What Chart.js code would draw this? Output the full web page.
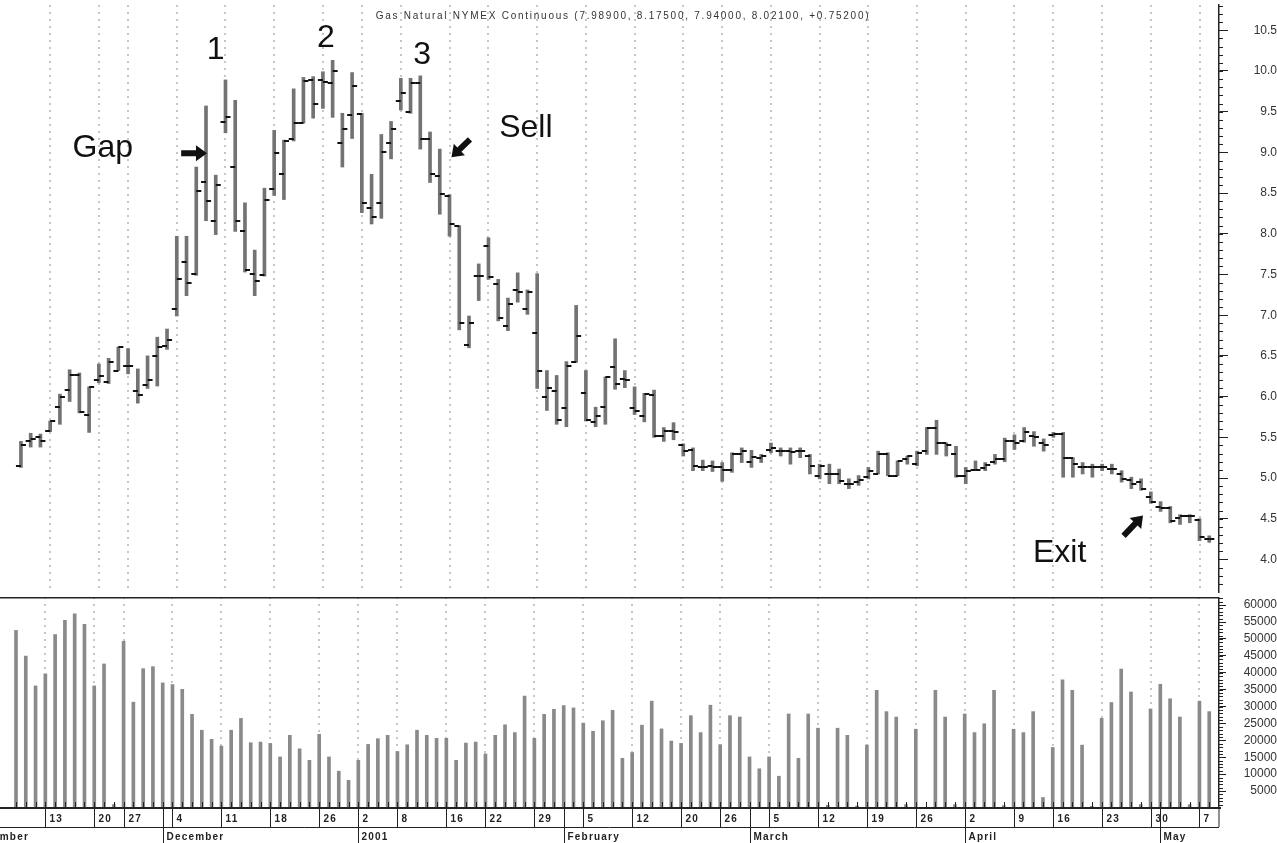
<!DOCTYPE html>
<html>
<head>
<meta charset="utf-8">
<script src="https://cdn.jsdelivr.net/npm/chart.js@4.4.0/dist/chart.umd.min.js"></script>
<style>
  html, body { margin: 0; padding: 0; background: #fff; }
  #wrap { position: relative; width: 1277px; height: 843px; overflow: hidden; background: #fff; }
  #priceChart { position: absolute; left: 0; top: 0; }
  #volumeChart { position: absolute; left: 0; top: 597px; }
</style>
</head>
<body>
<div id="wrap">
  <canvas id="priceChart" width="1277" height="597"></canvas>
  <canvas id="volumeChart" width="1277" height="246"></canvas>
</div>
<script>
const titleText = 'Gas Natural NYMEX Continuous (7.98900, 8.17500, 7.94000, 8.02100, +0.75200)';

// one entry per trading day, Nov 8 2000 .. May 8 2001
const priceOpen = [
  5.15, 5.45, 5.50, 5.58, 5.87, 6.08, 6.27, 5.77, 6.21, 6.18,
  6.32, 6.38, 6.07, 6.14, 6.50, 6.62, 7.07, 7.65, 7.51, 8.64,
  8.16, 9.37, 8.82, 8.03, 7.51, 7.49, 8.55, 8.74, 9.16, 9.36,
  9.89, 9.89, 9.85, 9.12, 9.46, 9.47, 8.32, 8.38, 9.12, 9.63,
  9.49, 9.85, 9.16, 8.71, 8.47, 8.10, 6.63, 7.48, 7.85, 7.38,
  6.87, 7.31, 7.08, 6.78, 5.99, 6.07, 5.86, 6.42, 6.05, 5.69,
  5.87, 6.36, 6.22, 5.86, 5.76, 6.02, 5.52, 5.58, 5.40, 5.35,
  5.14, 5.15, 5.14, 5.10, 5.30, 5.20, 5.24, 5.35, 5.33, 5.33,
  5.33, 5.27, 5.03, 5.05, 5.05, 4.93, 4.95, 5.01, 5.05, 5.29,
  5.03, 5.23, 5.17, 5.33, 5.62, 5.43, 5.29, 5.03, 5.10, 5.12,
  5.20, 5.23, 5.46, 5.46, 5.52, 5.43, 5.53, 5.54, 5.25, 5.13,
  5.13, 5.13, 5.11, 5.05, 4.97, 4.95, 4.77, 4.65, 4.63, 4.51,
  4.53, 4.49, 4.25
];
const priceHigh = [
  5.45, 5.55, 5.54, 5.70, 6.03, 6.33, 6.29, 6.12, 6.40, 6.47,
  6.61, 6.59, 6.34, 6.50, 6.73, 6.83, 7.97, 7.97, 8.82, 9.57,
  8.72, 9.89, 9.64, 8.38, 7.80, 8.56, 9.27, 9.15, 9.78, 9.92,
  9.93, 9.99, 10.13, 9.48, 9.98, 9.48, 8.73, 9.22, 9.38, 9.91,
  9.91, 9.94, 9.25, 9.04, 8.48, 8.10, 6.99, 7.63, 7.95, 7.44,
  7.21, 7.52, 7.31, 7.51, 6.32, 6.26, 6.43, 7.12, 6.32, 5.87,
  6.24, 6.71, 6.32, 6.12, 6.04, 6.08, 5.62, 5.68, 5.42, 5.37,
  5.22, 5.21, 5.19, 5.31, 5.37, 5.34, 5.29, 5.43, 5.37, 5.37,
  5.37, 5.29, 5.17, 5.17, 5.11, 4.99, 5.03, 5.13, 5.33, 5.31,
  5.21, 5.27, 5.33, 5.62, 5.71, 5.43, 5.39, 5.13, 5.21, 5.19,
  5.29, 5.49, 5.53, 5.62, 5.57, 5.48, 5.56, 5.56, 5.25, 5.19,
  5.17, 5.17, 5.17, 5.09, 5.01, 4.99, 4.83, 4.71, 4.65, 4.55,
  4.55, 4.50, 4.29
];
const priceLow = [
  5.13, 5.38, 5.38, 5.57, 5.66, 5.94, 5.80, 5.56, 6.17, 6.16,
  6.32, 6.28, 5.92, 6.10, 6.13, 6.58, 6.99, 7.24, 7.49, 8.16,
  7.99, 9.24, 8.03, 7.53, 7.24, 7.48, 8.47, 8.42, 9.14, 9.36,
  9.42, 9.54, 9.43, 8.82, 9.17, 8.26, 8.12, 8.19, 8.92, 9.52,
  9.48, 9.04, 8.63, 8.24, 7.97, 6.82, 6.60, 7.18, 7.44, 6.93,
  6.81, 7.16, 7.01, 6.10, 5.83, 5.66, 5.63, 6.42, 5.70, 5.63,
  5.66, 6.09, 6.11, 5.78, 5.69, 5.50, 5.45, 5.47, 5.27, 5.09,
  5.09, 5.08, 4.96, 5.07, 5.19, 5.13, 5.19, 5.31, 5.27, 5.17,
  5.25, 5.05, 4.99, 4.93, 4.93, 4.87, 4.91, 4.99, 5.05, 5.03,
  5.03, 5.17, 5.15, 5.29, 5.29, 5.27, 5.01, 4.93, 5.09, 5.09,
  5.17, 5.20, 5.35, 5.44, 5.39, 5.33, 5.50, 5.01, 5.01, 5.05,
  5.01, 5.09, 5.05, 4.95, 4.87, 4.85, 4.69, 4.59, 4.45, 4.43,
  4.45, 4.23, 4.21
];
const priceClose = [
  5.40, 5.48, 5.46, 5.70, 6.00, 6.27, 5.81, 6.12, 6.25, 6.42,
  6.61, 6.38, 6.02, 6.20, 6.61, 6.69, 7.45, 7.40, 8.52, 8.40,
  8.60, 9.43, 8.16, 7.55, 7.42, 8.42, 8.99, 9.14, 9.36, 9.88,
  9.60, 9.86, 10.00, 9.29, 9.81, 8.38, 8.21, 9.00, 9.29, 9.73,
  9.85, 9.17, 8.74, 8.49, 8.12, 6.90, 6.91, 7.48, 7.47, 6.97,
  7.14, 7.28, 7.28, 6.31, 6.11, 5.71, 6.38, 6.75, 5.71, 5.76,
  6.24, 6.15, 6.20, 5.82, 6.03, 5.52, 5.58, 5.56, 5.33, 5.15,
  5.14, 5.14, 5.10, 5.29, 5.33, 5.26, 5.27, 5.37, 5.33, 5.32,
  5.33, 5.15, 5.15, 5.05, 4.96, 4.93, 4.97, 5.09, 5.29, 5.03,
  5.21, 5.27, 5.31, 5.62, 5.43, 5.40, 5.03, 5.09, 5.10, 5.16,
  5.23, 5.46, 5.43, 5.56, 5.50, 5.40, 5.54, 5.25, 5.17, 5.13,
  5.13, 5.13, 5.11, 4.99, 4.93, 4.87, 4.71, 4.63, 4.47, 4.53,
  4.53, 4.27, 4.25
];
const volume = [
  52500, 44900, 36100, 39700, 51300, 55500, 57400, 54300, 36100, 42600,
  1000, 49300, 31300, 41200, 41800, 37000, 36500, 35100, 27700, 23000,
  20300, 18300, 23000, 26500, 19300, 19500, 19100, 15100, 21500, 17500,
  14100, 21800, 15100, 10900, 8200, 14100, 18800, 20500, 21500, 16700,
  18700, 23000, 21500, 20600, 20600, 14100, 19200, 19500, 16000, 21500,
  24600, 22300, 33100, 20600, 27700, 29200, 30300, 29600, 25100, 22700,
  25800, 28900, 14700, 16400, 24500, 31600, 23400, 19800, 19100, 27300,
  22300, 30400, 18700, 27300, 26900, 15100, 11600, 15100, 9400, 27800,
  14700, 27800, 23600, 800, 23600, 21500, 600, 18600, 34800, 28500,
  26900, 1000, 23300, 0, 34800, 26900, 1000, 27800, 22300, 24900,
  34800, 700, 23300, 22300, 28500, 3100, 17900, 37900, 34800, 18600,
  500, 26500, 31200, 41100, 34300, 1000, 29300, 36600, 32300, 26900,
  1000, 31600, 28500
];

// first trading day of each week (index into the arrays above) and its label
const weekIdx = [3, 8, 11, 16, 21, 26, 31, 35, 39, 44, 48, 53, 58, 63, 68, 72, 77, 82, 87, 92, 97, 102, 106, 111, 116, 121];
const weekLabels = ['13', '20', '27', '4', '11', '18', '26', '2', '8', '16', '22', '29', '5', '12', '20', '26', '5', '12', '19', '26', '2', '9', '16', '23', '30', '7'];
const monthIdx = [-5, 15, 35, 56, 75, 97, 117];
const monthLabels = ['November', 'December', '2001', 'February', 'March', 'April', 'May'];

const priceTicks = [4.0, 4.5, 5.0, 5.5, 6.0, 6.5, 7.0, 7.5, 8.0, 8.5, 9.0, 9.5, 10.0, 10.5];
const priceTickLabels = ['4.0', '4.5', '5.0', '5.5', '6.0', '6.5', '7.0', '7.5', '8.0', '8.5', '9.0', '9.5', '10.0', '10.5'];
const volumeTicks = [5000, 10000, 15000, 20000, 25000, 30000, 35000, 40000, 45000, 50000, 55000, 60000];
const volumeTickLabels = ['5000', '10000', '15000', '20000', '25000', '30000', '35000', '40000', '45000', '50000', '55000', '60000'];

// annotations, in (day index, price) coordinates
const notes = [
  { text: '1', x: 20.0, y: 10.15, align: 'center' },
  { text: '2', x: 31.3, y: 10.30, align: 'center' },
  { text: '3', x: 41.2, y: 10.09, align: 'center' },
  { text: 'Gap', x: 5.3, y: 8.94, align: 'left' },
  { text: 'Sell', x: 49.1, y: 9.19, align: 'left' },
  { text: 'Exit', x: 103.9, y: 3.97, align: 'left' }
];
const arrows = [
  { from: [16.45, 8.99], to: [19.1, 8.99] },
  { from: [46.1, 9.16], to: [44.2, 8.94] },
  { from: [113.2, 4.29], to: [115.2, 4.54] }
];

const xMin = -1.636;
const xMax = 123.0;
const FONT = "'Liberation Sans', Arial, sans-serif";
Chart.defaults.font.family = FONT;

function tickMark(side) {
  const c = document.createElement('canvas');
  c.width = 12;
  c.height = 2;
  const g = c.getContext('2d');
  g.fillStyle = '#111';
  if (side === 'open') g.fillRect(1, 0, 5, 2);
  else g.fillRect(6, 0, 5, 2);
  return c;
}
const openMark = tickMark('open');
const closeMark = tickMark('close');

function line(ctx, x1, y1, x2, y2) {
  ctx.beginPath();
  ctx.moveTo(x1, y1);
  ctx.lineTo(x2, y2);
  ctx.stroke();
}

// dotted weekly grid lines
const weekGrid = {
  id: 'weekGrid',
  beforeDatasetsDraw(chart) {
    const { ctx, chartArea } = chart;
    const xs = chart.scales.x;
    ctx.save();
    ctx.strokeStyle = '#b4b4b4';
    ctx.lineWidth = 1.5;
    ctx.setLineDash([2, 5]);
    weekIdx.forEach(i => {
      const x = Math.round(xs.getPixelForValue(i));
      line(ctx, x, chartArea.top, x, chartArea.bottom);
    });
    ctx.restore();
  }
};

// small ticks between the labelled ones on the right axis
const minorTicks = {
  id: 'minorTicks',
  afterDraw(chart, args, opts) {
    const { ctx } = chart;
    const ys = chart.scales.y;
    ctx.save();
    ctx.strokeStyle = '#222';
    ctx.lineWidth = 1;
    for (let k = opts.from; k <= opts.to; k++) {
      const y = Math.round(ys.getPixelForValue(k * opts.step)) + 0.5;
      line(ctx, ys.left, y, ys.left + opts.length, y);
    }
    ctx.restore();
  }
};

const titlePlugin = {
  id: 'topTitle',
  afterDraw(chart) {
    const { ctx } = chart;
    ctx.save();
    ctx.font = '10px ' + FONT;
    ctx.fillStyle = '#333';
    ctx.textAlign = 'center';
    ctx.textBaseline = 'middle';
    ctx.letterSpacing = '1.75px';
    ctx.fillText(titleText, 623, 16);
    ctx.restore();
  }
};

const notesPlugin = {
  id: 'notes',
  afterDraw(chart) {
    const { ctx } = chart;
    const xs = chart.scales.x;
    const ys = chart.scales.y;
    ctx.save();
    ctx.fillStyle = '#111';
    ctx.font = '32px ' + FONT;
    ctx.textBaseline = 'alphabetic';
    notes.forEach(n => {
      ctx.textAlign = n.align;
      ctx.fillText(n.text, xs.getPixelForValue(n.x), ys.getPixelForValue(n.y));
    });
    arrows.forEach(a => {
      const x1 = xs.getPixelForValue(a.from[0]);
      const y1 = ys.getPixelForValue(a.from[1]);
      const x2 = xs.getPixelForValue(a.to[0]);
      const y2 = ys.getPixelForValue(a.to[1]);
      const len = Math.hypot(x2 - x1, y2 - y1);
      const hl = 11, hw = 16, sw = 6;
      ctx.save();
      ctx.translate(x2, y2);
      ctx.rotate(Math.atan2(y2 - y1, x2 - x1));
      ctx.beginPath();
      ctx.moveTo(0, 0);
      ctx.lineTo(-hl, -hw / 2);
      ctx.lineTo(-hl, -sw / 2);
      ctx.lineTo(-len, -sw / 2);
      ctx.lineTo(-len, sw / 2);
      ctx.lineTo(-hl, sw / 2);
      ctx.lineTo(-hl, hw / 2);
      ctx.closePath();
      ctx.fill();
      ctx.restore();
    });
    ctx.restore();
  }
};

// panel separator and the two-row date axis under the volume panel
const dateAxis = {
  id: 'dateAxis',
  afterDraw(chart) {
    const { ctx, chartArea } = chart;
    const xs = chart.scales.x;
    const base = chartArea.bottom;
    const right = chartArea.right;
    const row = base + 19;
    ctx.save();
    ctx.strokeStyle = '#222';
    ctx.fillStyle = '#222';
    ctx.lineWidth = 1.5;
    line(ctx, 0, 0.75, right, 0.75);
    ctx.lineWidth = 1;
    for (let i = 0; i < volume.length; i++) {
      const x = Math.round(xs.getPixelForValue(i)) + 0.5;
      line(ctx, x, base - 6, x, base);
    }
    ctx.lineWidth = 2;
    line(ctx, 0, base, right + 2, base);
    ctx.lineWidth = 1;
    line(ctx, 0, row + 0.5, right, row + 0.5);
    line(ctx, right, base, right, row);
    ctx.font = 'bold 10px ' + FONT;
    ctx.letterSpacing = '1.2px';
    ctx.textAlign = 'left';
    ctx.textBaseline = 'alphabetic';
    weekIdx.forEach((i, k) => {
      const x = Math.round(xs.getPixelForValue(i)) + 0.5;
      line(ctx, x, base, x, row);
      ctx.fillText(weekLabels[k], x + 4, base + 14);
    });
    monthIdx.forEach((i, k) => {
      const x = Math.round(xs.getPixelForValue(i)) + 0.5;
      line(ctx, x, base, x, chart.height);
      ctx.fillText(monthLabels[k], x + 3, row + 13);
    });
    ctx.restore();
  }
};

const xScale = {
  type: 'linear',
  display: false,
  min: xMin,
  max: xMax,
  offset: false
};

new Chart(document.getElementById('priceChart'), {
  type: 'bar',
  data: {
    datasets: [
      {
        type: 'scatter',
        order: 1,
        data: priceOpen.map((v, i) => ({ x: i, y: v })),
        pointStyle: openMark,
        pointRadius: 3
      },
      {
        type: 'scatter',
        order: 1,
        data: priceClose.map((v, i) => ({ x: i, y: v })),
        pointStyle: closeMark,
        pointRadius: 3
      },
      {
        type: 'bar',
        order: 2,
        data: priceLow.map((v, i) => ({ x: i, y: [v, priceHigh[i]] })),
        backgroundColor: '#737373',
        borderWidth: 0,
        barThickness: 3
      }
    ]
  },
  options: {
    responsive: false,
    animation: false,
    events: [],
    layout: { padding: 0 },
    plugins: {
      legend: { display: false },
      tooltip: { enabled: false },
      minorTicks: { step: 0.1, from: 37, to: 108, length: 4 }
    },
    scales: {
      x: xScale,
      y: {
        position: 'right',
        min: 3.6,
        max: 10.81,
        afterFit: s => { s.width = 58; s.paddingTop = 0; s.paddingBottom = 0; },
        afterBuildTicks: s => { s.ticks = priceTicks.map(v => ({ value: v })); },
        grid: { drawOnChartArea: false, drawTicks: true, tickLength: 9, color: '#222', lineWidth: 1 },
        border: { display: true, color: '#222', width: 1.5 },
        ticks: {
          autoSkip: false,
          crossAlign: 'far',
          padding: 25,
          color: '#333',
          font: { size: 12 },
          callback: (v, i) => priceTickLabels[i]
        }
      }
    }
  },
  plugins: [weekGrid, minorTicks, titlePlugin, notesPlugin]
});

new Chart(document.getElementById('volumeChart'), {
  type: 'bar',
  data: {
    datasets: [{
      data: volume.map((v, i) => ({ x: i, y: v })),
      backgroundColor: '#8a8a8a',
      borderWidth: 0,
      barThickness: 3
    }]
  },
  options: {
    responsive: false,
    animation: false,
    events: [],
    layout: { padding: { top: 0, left: 0, right: 0, bottom: 35 } },
    plugins: {
      legend: { display: false },
      tooltip: { enabled: false },
      minorTicks: { step: 1000, from: 1, to: 62, length: 4 }
    },
    scales: {
      x: xScale,
      y: {
        position: 'right',
        min: 0,
        max: 62400,
        afterFit: s => { s.width = 58; s.paddingTop = 0; s.paddingBottom = 0; },
        afterBuildTicks: s => { s.ticks = volumeTicks.map(v => ({ value: v })); },
        grid: { drawOnChartArea: false, drawTicks: true, tickLength: 7, color: '#222', lineWidth: 1 },
        border: { display: true, color: '#222', width: 1.5 },
        ticks: {
          autoSkip: false,
          crossAlign: 'far',
          padding: 20,
          color: '#333',
          font: { size: 12 },
          callback: (v, i) => volumeTickLabels[i]
        }
      }
    }
  },
  plugins: [weekGrid, minorTicks, dateAxis]
});
</script>
</body>
</html>
